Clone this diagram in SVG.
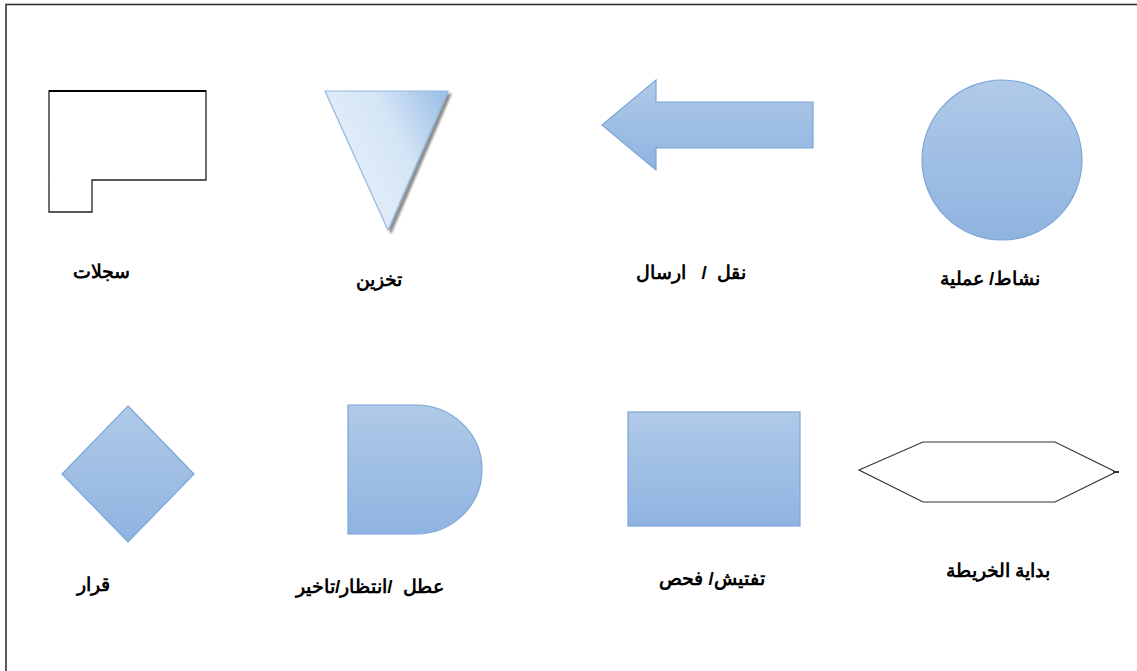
<svg xmlns="http://www.w3.org/2000/svg" width="1137" height="671" viewBox="0 0 1137 671">
<defs>
<linearGradient id="g" x1="0" y1="0" x2="0" y2="1">
<stop offset="0" stop-color="#b0cae8"/>
<stop offset="1" stop-color="#8fb3e0"/>
</linearGradient>
<linearGradient id="tg" x1="0" y1="0.6" x2="1" y2="0">
<stop offset="0" stop-color="#e6f0fa"/>
<stop offset="0.55" stop-color="#d5e5f5"/>
<stop offset="1" stop-color="#98bde6"/>
</linearGradient>
<filter id="sh" x="-20%" y="-20%" width="140%" height="140%">
<feGaussianBlur in="SourceAlpha" stdDeviation="1.2"/>
<feOffset dx="3" dy="3"/>
<feComponentTransfer><feFuncA type="linear" slope="0.45"/></feComponentTransfer>
<feMerge><feMergeNode/><feMergeNode in="SourceGraphic"/></feMerge>
</filter>
</defs>
<style>
.blue{fill:url(#g);stroke:#7ba6d9;stroke-width:1.2}
.line{fill:#fff;stroke:#222;stroke-width:1.3}
.lbl{font-family:"Liberation Sans","Noto Sans",Arial,sans-serif;font-weight:bold;font-size:19px;fill:#000;text-anchor:middle;white-space:pre}
</style>
<rect x="6" y="4.5" width="1140" height="680" fill="#fff" stroke="#333" stroke-width="1.6"/>
<g id="connectors"/>
<g id="records">
<path class="line" d="M49,91 H206 V180 H92 V212 H49 Z"/>
<line x1="49" y1="91" x2="206" y2="91" stroke="#000" stroke-width="2"/>
<text class="lbl" x="101" y="278" direction="rtl">سجلات</text>
</g>
<g id="storage">
<path d="M325,91 L448,91 L388,230 Z" fill="url(#tg)" stroke="#93b9e1" stroke-width="1.2" filter="url(#sh)"/>
<text class="lbl" x="379" y="286" direction="rtl">تخزين</text>
</g>
<g id="transport">
<path class="blue" d="M602,125 L656,80 V102 H813 V148 H656 V170 Z"/>
<text class="lbl" x="691" y="279" direction="rtl" xml:space="preserve">نقل  /   ارسال</text>
</g>
<g id="operation">
<circle class="blue" cx="1002" cy="160" r="80"/>
<text class="lbl" x="990" y="285" direction="rtl">نشاط/ عملية</text>
</g>
<g id="decision">
<path class="blue" d="M128,406 L194,474 L128,542 L62,474 Z"/>
<text class="lbl" x="93" y="591" direction="rtl">قرار</text>
</g>
<g id="delay">
<path class="blue" d="M348,405 H416 A66,64.5 0 0 1 416,534 H348 Z"/>
<text class="lbl" x="370" y="593" direction="rtl" xml:space="preserve">عطل  /انتظار/تاخير</text>
</g>
<g id="inspection">
<rect class="blue" x="628" y="412" width="172" height="114"/>
<text class="lbl" x="712" y="585" direction="rtl">تفتيش/ فحص</text>
</g>
<g id="start">
<path fill="#fff" stroke="#333" stroke-width="1.2" d="M859,470 L923,442 H1055 L1116,472 L1055,502 H923 Z"/>
<line x1="1113" y1="472" x2="1119" y2="472" stroke="#333" stroke-width="2"/>
<text class="lbl" x="998" y="577" direction="rtl">بداية الخريطة</text>
</g>
</svg>
